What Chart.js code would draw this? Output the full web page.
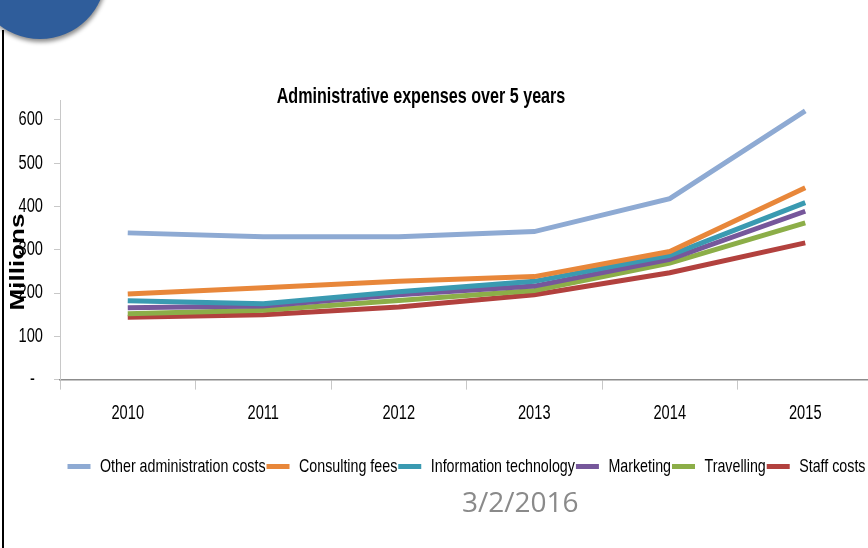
<!DOCTYPE html>
<html>
<head>
<meta charset="utf-8">
<script src="https://cdn.jsdelivr.net/npm/chart.js@4.4.1/dist/chart.umd.min.js"></script>
<style>
  html, body { margin: 0; padding: 0; background: #fff; overflow: hidden; width: 868px; height: 548px; }
  #wrap { position: absolute; left: 0; top: 0; width: 890px; height: 548px; }
  #bolita { position: absolute; left: -26px; top: -93px; width: 132px; height: 132px; border-radius: 50%;
            background: #2f5d9b; box-shadow: 1px 3px 4px rgba(0,0,0,0.45); z-index: 2; }
  #raya { position: absolute; left: 2px; top: 30px; width: 2px; height: 518px; background: #000; z-index: 1; }
  #fecha { position: absolute; left: 462px; top: 482px; font-family: 'Open Sans', sans-serif; font-size: 28px; color: #8a8a8a; }
</style>
</head>
<body>
<div id="raya"></div>
<div id="bolita"></div>
<div id="wrap"><canvas id="myChart" width="890" height="548"></canvas></div>
<div id="fecha">3/2/2016</div>
<script>
// datos (millones)
const anios = ['2010', '2011', '2012', '2013', '2014', '2015'];
const otrosAdmin = [339, 330, 330, 342, 418, 621];
const consultoria = [198, 212, 227, 238, 296, 443];
const informatica = [182, 175, 203, 227, 287, 409];
const marketing = [166, 170, 196, 216, 278, 389];
const viajes = [152, 160, 183, 206, 269, 362];
const personal = [144, 150, 168, 196, 247, 316];
const marcasEje = [0, 100, 200, 300, 400, 500, 600];

const FUENTE = "'Liberation Sans', Arial, sans-serif";
const ESTRECHO = 0.75;   // la grafica original esta encogida a lo ancho

// Encogemos el texto a lo ancho (dibujo y medida) para imitar la letra estrecha
const canvas = document.getElementById('myChart');
const ctx = canvas.getContext('2d');
const fillOriginal = ctx.fillText.bind(ctx);
const medirOriginal = ctx.measureText.bind(ctx);
ctx.fillText = function(texto, x, y, maxW){
    ctx.save();
    ctx.translate(x, y);
    ctx.scale(ESTRECHO, 1);
    if(maxW === undefined)
        fillOriginal(texto, 0, 0);
    else
        fillOriginal(texto, 0, 0, maxW / ESTRECHO);
    ctx.restore();
};
ctx.measureText = function(texto){
    const m = medirOriginal(texto);
    return {
        width: m.width * ESTRECHO,
        actualBoundingBoxAscent: m.actualBoundingBoxAscent,
        actualBoundingBoxDescent: m.actualBoundingBoxDescent,
        actualBoundingBoxLeft: m.actualBoundingBoxLeft * ESTRECHO,
        actualBoundingBoxRight: m.actualBoundingBoxRight * ESTRECHO
    };
};

function serie(nombre, valores, color){
    return {
        label: nombre,
        data: valores,
        borderColor: color,
        backgroundColor: color,
        borderWidth: 5,
        pointRadius: 0,
        tension: 0,
        fill: false
    };
}

// titulo de la grafica y etiqueta "Millions" girada encima de los numeros del eje
const textosExtra = {
    id: 'textosExtra',
    afterDraw(chart){
        const c = chart.ctx;
        c.save();
        c.font = 'bold 21.5px ' + FUENTE;
        c.fillStyle = '#000';
        c.textAlign = 'center';
        c.textBaseline = 'middle';
        c.fillText('Administrative expenses over 5 years', 421, 97);

        c.translate(19, 262);
        c.rotate(-Math.PI / 2);
        c.scale(1, ESTRECHO);
        c.font = 'bold 26px ' + FUENTE;
        fillOriginal('Millions', 0, 0);
        c.restore();
    }
};

let config = {
    type: 'line',
    data: {
        labels: anios,
        datasets: [
            serie('Other administration costs', otrosAdmin, '#8eaad3'),
            serie('Consulting fees', consultoria, '#e8873a'),
            serie('Information technology', informatica, '#3a9ab1'),
            serie('Marketing', marketing, '#76579b'),
            serie('Travelling', viajes, '#8cae48'),
            serie('Staff costs', personal, '#b2413e')
        ]
    },
    options: {
        responsive: false,
        animation: false,
        devicePixelRatio: 1,
        layout: {
            padding: { left: 0, right: 17, top: 100, bottom: 62 }
        },
        plugins: {
            legend: {
                position: 'bottom',
                fullSize: false,
                labels: {
                    usePointStyle: true,
                    pointStyle: 'line',
                    pointStyleWidth: 23,
                    color: '#000',
                    padding: 1,
                    font: { family: FUENTE, size: 19 }
                }
            },
            tooltip: { enabled: false }
        },
        scales: {
            x: {
                offset: true,
                afterFit(scale){
                    scale.height += 19;
                },
                grid: {
                    offset: true,
                    drawOnChartArea: false,
                    drawTicks: true,
                    tickLength: 10,
                    color: '#c8c8c8'
                },
                border: { color: '#8c8c8c', width: 1.5 },
                ticks: {
                    color: '#000',
                    padding: 12,
                    font: { family: FUENTE, size: 19.5 }
                }
            },
            y: {
                min: 0,
                max: 646,
                afterBuildTicks(scale){
                    scale.ticks = marcasEje.map(v => ({ value: v }));
                },
                afterFit(scale){
                    scale.width = 60;
                },
                grid: {
                    drawOnChartArea: false,
                    drawTicks: true,
                    tickLength: 6,
                    color: '#c8c8c8'
                },
                border: { color: '#c8c8c8', width: 1 },
                ticks: {
                    color: '#000',
                    padding: 11,
                    font: { family: FUENTE, size: 19.5 },
                    // formato contable: el cero sale como un guion
                    callback: function(v){ return v === 0 ? '-  ' : v; }
                }
            }
        }
    },
    plugins: [textosExtra]
};

const myChart = new Chart(canvas, config);
</script>
</body>
</html>
